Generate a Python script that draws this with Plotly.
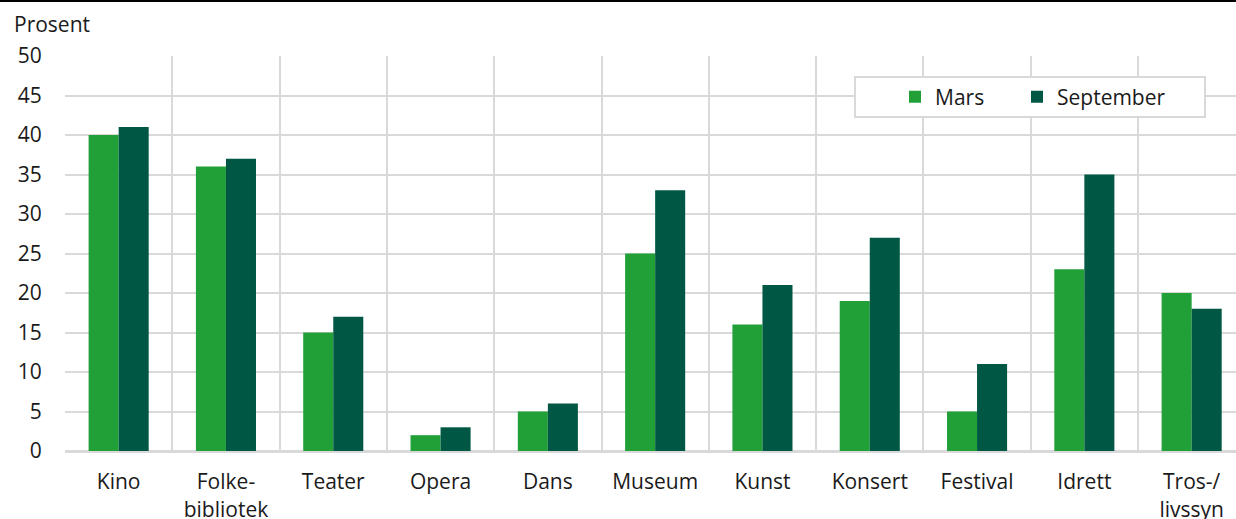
import plotly.graph_objects as go

categories = ["Kino", "Folke-<br>bibliotek", "Teater", "Opera", "Dans", "Museum",
              "Kunst", "Konsert", "Festival", "Idrett", "Tros-/<br>livssyn"]
mars = [40, 36, 15, 2, 5, 25, 16, 19, 5, 23, 20]
september = [41, 37, 17, 3, 6, 33, 21, 27, 11, 35, 18]
y_ticks = [0, 5, 10, 15, 20, 25, 30, 35, 40, 45, 50]

xs = list(range(len(categories)))
FONT = "Open Sans"
GRID = "#d9d9d9"
TXT = "#1a1a1a"
FS = 21

W, H = 1236, 519
ml, mr, mt, mb = 65, 0, 56, 68
PW, PH = W - ml - mr, H - mt - mb


def px(x):
    return (x - ml) / PW


def py(y):
    return (H - mb - y) / PH


fig = go.Figure()
fig.add_trace(go.Bar(x=xs, y=mars, name="Mars", legend="legend",
                     marker=dict(color="#21a038", line=dict(width=0))))
fig.add_trace(go.Bar(x=xs, y=september, name="September", legend="legend2",
                     marker=dict(color="#005744", line=dict(width=0))))

leg_common = dict(orientation="h", yanchor="middle", xanchor="left",
                  borderwidth=0, bgcolor="rgba(0,0,0,0)", itemwidth=30,
                  font=dict(family=FONT, size=FS, color=TXT))

fig.update_layout(
    width=W, height=H,
    margin=dict(l=ml, r=mr, t=mt, b=mb, autoexpand=False),
    paper_bgcolor="white", plot_bgcolor="white",
    barmode="group", bargap=0.44, bargroupgap=0,
    font=dict(family=FONT, size=FS, color=TXT),
    showlegend=True,
    legend=dict(x=px(895), y=py(97), **leg_common),
    legend2=dict(x=px(1017), y=py(97), **leg_common),
    xaxis=dict(
        automargin=False,
        range=[-0.5, PW / 107.3 - 0.5],
        tickmode="array", tickvals=xs, ticktext=categories,
        showgrid=False, zeroline=False,
        showline=False, ticks="outside", ticklen=12, tickcolor="rgba(0,0,0,0)",
        minor=dict(tickmode="linear", tick0=-0.5, dtick=1, showgrid=True,
                   gridcolor=GRID, gridwidth=2, ticks=""),
        tickfont=dict(family=FONT, size=FS, color=TXT),
    ),
    yaxis=dict(
        automargin=False,
        range=[0, 50], tickmode="array", tickvals=y_ticks,
        showgrid=True, gridcolor=GRID, gridwidth=2,
        zeroline=True, zerolinecolor=GRID, zerolinewidth=3,
        showline=False, ticks="outside", ticklen=18, tickcolor="rgba(0,0,0,0)",
        tickfont=dict(family=FONT, size=FS, color=TXT),
    ),
    annotations=[dict(
        text="Prosent", xref="paper", yref="paper",
        x=px(12), y=py(24),
        xanchor="left", yanchor="middle", showarrow=False,
        font=dict(family=FONT, size=FS, color=TXT),
    )],
    shapes=[
        dict(type="line", xref="paper", yref="paper",
             x0=px(0), x1=1, y0=py(1), y1=py(1),
             line=dict(color="black", width=2)),
        dict(type="rect", xref="paper", yref="paper",
             x0=px(855), x1=px(1205), y0=py(77), y1=py(117),
             line=dict(color=GRID, width=2), fillcolor="white", layer="above"),
    ],
)

fig.write_html("out.html", config={"displayModeBar": False},
               post_script="document.body.style.margin='0';document.body.style.padding='0';")
